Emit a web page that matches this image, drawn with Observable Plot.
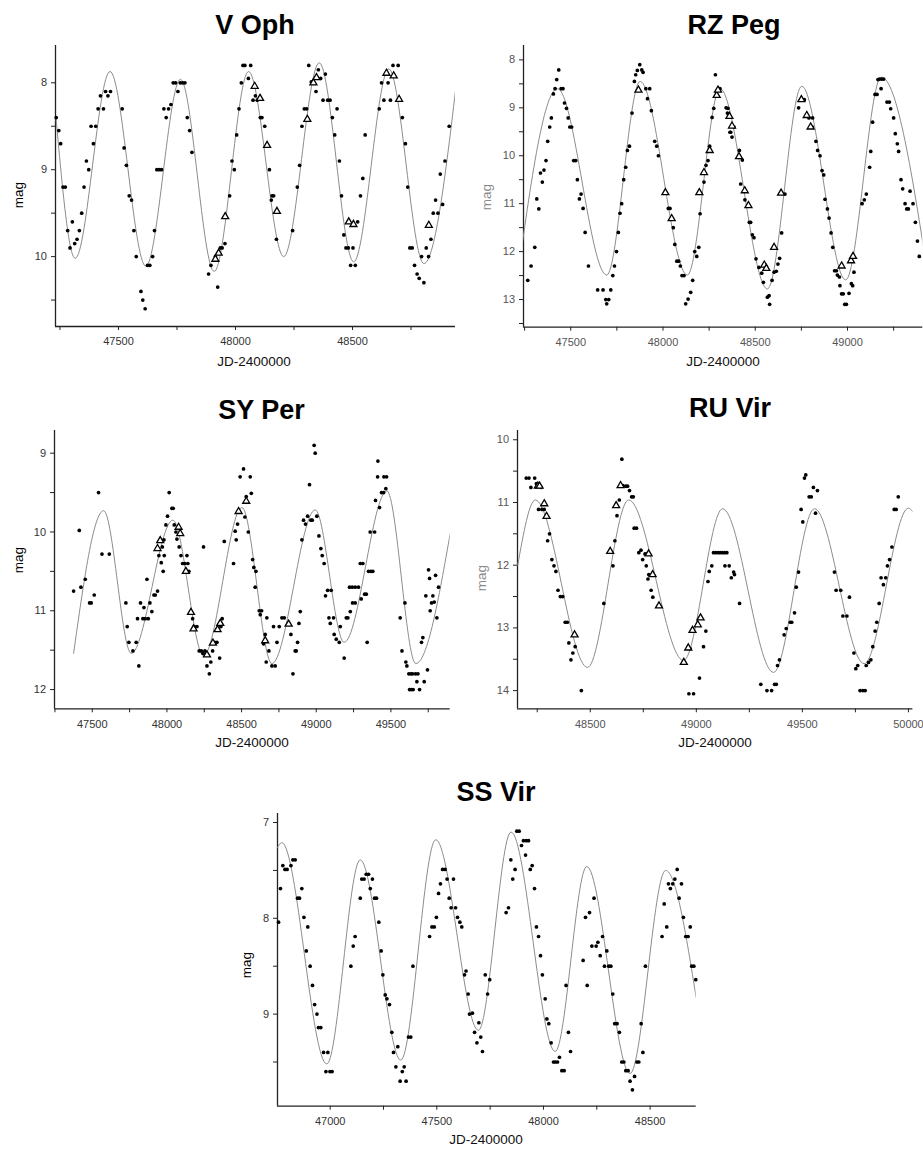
<!DOCTYPE html>
<html><head><meta charset="utf-8">
<script src="https://cdn.jsdelivr.net/npm/d3@7"></script>
<script src="https://cdn.jsdelivr.net/npm/@observablehq/plot@0.6"></script>
<style>
html,body{margin:0;padding:0;background:#fff;}
#page{position:relative;width:923px;height:1150px;overflow:hidden;font-family:Arial,"Liberation Sans",Helvetica,sans-serif;background:#fff;}
.title{position:absolute;font-weight:bold;font-size:27px;line-height:27px;text-align:center;width:240px;color:#000;white-space:nowrap;}
.ylab{position:absolute;font-size:13.5px;line-height:14px;transform:translate(-50%,-50%) rotate(-90deg);white-space:nowrap;}
.xlab{position:absolute;font-size:13.5px;line-height:14px;transform:translate(-50%,-50%);white-space:nowrap;color:#111;}
</style></head><body><div id="page"></div>
<script>
// ---------------- V Oph ----------------
const vOphDots = [[47234,8.40],[47245,8.55],[47253,8.70],[47263,9.20],[47273,9.20],[47283,9.70],[47293,9.90],[47303,9.60],[47313,9.85],[47323,9.80],[47333,9.70],[47343,9.50],[47353,9.20],[47363,8.90],[47373,9.00],[47383,8.50],[47393,8.70],[47403,8.50],[47413,8.30],[47423,8.15],[47436,8.30],[47445,8.10],[47455,8.15],[47466,8.10],[47516,8.30],[47524,8.75],[47534,8.95],[47546,9.30],[47556,9.35],[47566,9.70],[47576,10.00],[47596,10.40],[47604,10.50],[47614,10.60],[47624,10.10],[47634,10.10],[47646,10.00],[47654,9.70],[47664,9.00],[47674,9.00],[47684,9.00],[47694,8.30],[47704,8.40],[47714,8.30],[47724,8.25],[47734,8.00],[47744,8.00],[47754,8.10],[47764,8.00],[47774,8.00],[47784,8.00],[47794,8.40],[47804,8.55],[47814,8.80],[47885,10.20],[47895,10.10],[47914,10.00],[47924,10.35],[47935,9.90],[47943,9.90],[47955,9.85],[47975,9.30],[47985,8.90],[47995,9.00],[48005,8.60],[48015,8.30],[48025,8.00],[48032,7.80],[48040,7.80],[48065,7.80],[48055,7.95],[48075,8.20],[48085,8.15],[48093,8.20],[48106,8.40],[48113,8.40],[48125,8.50],[48145,9.00],[48153,9.35],[48156,9.30],[48163,9.30],[48175,9.80],[48244,9.70],[48264,9.20],[48274,8.95],[48284,8.50],[48294,8.30],[48304,8.30],[48313,7.80],[48324,7.99],[48334,8.00],[48344,8.10],[48354,7.85],[48364,7.95],[48374,8.20],[48384,7.90],[48394,8.20],[48404,8.20],[48414,8.40],[48424,8.60],[48434,8.30],[48444,8.90],[48453,9.30],[48463,9.75],[48472,9.90],[48482,9.90],[48492,10.10],[48502,9.90],[48512,10.10],[48522,9.60],[48534,9.30],[48544,9.10],[48554,8.60],[48614,8.30],[48624,8.00],[48634,8.20],[48652,8.00],[48662,8.20],[48673,7.80],[48695,7.80],[48713,8.40],[48726,8.70],[48736,9.20],[48745,9.90],[48755,9.90],[48765,10.10],[48776,10.20],[48785,10.25],[48795,10.00],[48805,10.30],[48815,9.90],[48825,10.00],[48835,9.80],[48845,9.50],[48855,9.35],[48865,9.50],[48875,9.05],[48885,9.40],[48895,8.90],[48913,8.50]];
const vOphTri = [[47914,10.03],[47928,9.96],[47956,9.54],[48082,8.04],[48105,8.18],[48135,8.72],[48177,9.48],[48307,8.42],[48333,8.00],[48346,7.94],[48484,9.60],[48504,9.63],[48645,7.89],[48676,7.92],[48699,8.19],[48826,9.64]];
const vOphFit = [[47233,8.40],[47315,10.02],[47464,7.87],[47617,10.11],[47765,7.96],[47909,10.17],[48056,7.87],[48206,10.00],[48358,7.77],[48505,10.06],[48655,7.84],[48805,10.08],[48950,7.86]];
const vOphXTicks = [47500,48000,48500];
const vOphXMinor = [47250,47750,48250,48750];
const vOphYTicks = [8,9,10];
const vOphYMinor = [8.5,9.5,10.5];

// ---------------- RZ Peg ----------------
const rzPegDots = [[47267,12.60],[47285,12.30],[47305,11.91],[47316,10.90],[47327,11.11],[47336,10.36],[47346,10.55],[47355,10.30],[47366,10.10],[47375,9.70],[47386,9.40],[47395,9.21],[47406,8.71],[47415,8.60],[47424,8.41],[47435,8.21],[47448,8.60],[47458,8.60],[47466,8.90],[47477,9.01],[47486,9.21],[47495,9.40],[47505,9.40],[47516,10.10],[47527,10.10],[47536,10.50],[47547,10.90],[47556,10.80],[47567,11.10],[47578,11.60],[47596,12.30],[47646,12.80],[47675,12.80],[47690,13.00],[47695,13.09],[47706,13.00],[47717,12.80],[47728,12.50],[47737,12.30],[47748,12.00],[47758,11.60],[47767,11.20],[47776,11.00],[47787,10.50],[47798,10.24],[47807,9.89],[47818,9.80],[47832,9.11],[47845,8.45],[47852,8.31],[47861,8.22],[47874,8.10],[47885,8.21],[47892,8.26],[47907,8.60],[47928,8.60],[47916,8.81],[47937,9.06],[47955,9.70],[47966,9.80],[47975,10.00],[48029,11.10],[48038,11.10],[48056,11.50],[48064,11.85],[48075,12.20],[48085,12.20],[48094,12.30],[48103,12.50],[48114,12.50],[48123,13.09],[48136,12.99],[48150,12.85],[48161,12.60],[48172,12.00],[48183,12.10],[48194,11.91],[48201,11.21],[48222,10.55],[48233,10.20],[48244,10.10],[48253,9.80],[48266,9.20],[48275,9.01],[48284,8.31],[48302,8.60],[48309,8.60],[48342,9.00],[48349,9.11],[48352,9.01],[48363,9.51],[48367,9.51],[48374,9.61],[48385,9.40],[48414,9.89],[48430,10.09],[48421,10.59],[48444,10.92],[48468,11.39],[48475,11.39],[48484,11.65],[48493,11.71],[48504,12.15],[48520,12.33],[48535,12.45],[48544,12.64],[48566,12.95],[48575,12.92],[48578,13.10],[48591,12.60],[48602,12.43],[48614,12.41],[48623,12.26],[48632,12.14],[48643,11.61],[48661,10.80],[48735,9.00],[48746,8.83],[48757,8.83],[48766,8.83],[48791,9.21],[48811,9.21],[48809,9.40],[48829,9.70],[48838,9.89],[48851,10.00],[48862,10.31],[48871,10.40],[48878,10.91],[48891,11.11],[48900,11.30],[48911,11.61],[48920,11.91],[48930,12.40],[48940,12.40],[48945,12.49],[48956,12.53],[48959,12.71],[48968,12.88],[48977,12.88],[48985,13.10],[48994,13.10],[49008,12.87],[49021,12.67],[49035,12.43],[49028,12.71],[49079,11.00],[49091,10.92],[49102,10.80],[49120,10.24],[49126,9.91],[49136,9.30],[49149,8.72],[49160,8.72],[49165,8.41],[49182,8.60],[49173,8.40],[49185,8.40],[49196,8.40],[49214,8.88],[49227,8.88],[49234,9.02],[49250,9.21],[49259,9.54],[49270,9.75],[49277,9.91],[49290,10.50],[49299,10.69],[49312,11.00],[49321,11.11],[49330,11.11],[49339,10.74],[49355,11.00],[49368,11.39],[49379,11.78],[49389,12.10]];
const rzPegTri = [[47867,8.63],[48013,10.77],[48047,11.31],[48197,10.77],[48222,10.35],[48253,9.89],[48291,8.74],[48298,8.63],[48360,9.18],[48374,9.38],[48412,10.02],[48443,10.73],[48463,11.04],[48549,12.28],[48560,12.35],[48602,11.91],[48640,10.78],[48750,8.83],[48779,9.16],[48800,9.40],[48968,12.30],[49019,12.19],[49030,12.10]];
const rzPegFit = [[47200,12.88],[47428,8.60],[47695,12.49],[47876,8.45],[48132,12.49],[48309,8.60],[48566,12.78],[48752,8.55],[48990,12.59],[49183,8.36],[49440,12.60]];
const rzPegXTicks = [47500,48000,48500,49000];
const rzPegXMinor = [47250,47750,48250,48750,49250];
const rzPegYTicks = [8,9,10,11,12,13];
const rzPegYMinor = [8.5,9.5,10.5,11.5,12.5,13.5];

// ---------------- SY Per ----------------
const syPerDots = [[47375,10.75],[47413,9.98],[47424,10.70],[47453,10.60],[47482,10.90],[47493,10.90],[47513,10.80],[47542,9.50],[47565,10.28],[47614,10.28],[47725,10.90],[47734,11.20],[47745,11.40],[47772,11.51],[47794,11.40],[47812,11.70],[47803,11.10],[47823,10.90],[47839,11.10],[47855,11.10],[47875,11.10],[47846,10.96],[47866,10.60],[47886,10.90],[47899,11.01],[47913,10.80],[47922,10.80],[47937,10.75],[47946,10.30],[47962,10.39],[47969,10.19],[47982,10.30],[47975,10.50],[47980,10.10],[47993,9.91],[48004,9.80],[48015,9.50],[48033,9.70],[48042,9.70],[48049,9.91],[48060,10.00],[48067,10.09],[48082,10.19],[48094,10.30],[48105,10.40],[48120,10.40],[48140,10.40],[48134,10.30],[48147,10.50],[48172,11.10],[48183,11.20],[48201,11.20],[48216,11.51],[48230,11.51],[48241,11.54],[48254,11.51],[48268,11.70],[48284,11.80],[48294,11.65],[48306,11.51],[48319,11.40],[48335,11.40],[48353,11.60],[48361,11.20],[48370,11.10],[48384,10.12],[48245,10.19],[48446,10.40],[48457,9.99],[48464,10.10],[48473,9.90],[48490,9.30],[48513,9.20],[48522,9.81],[48531,9.55],[48545,10.00],[48558,9.30],[48565,9.51],[48574,10.35],[48582,10.45],[48596,10.50],[48591,10.70],[48618,11.00],[48634,11.00],[48625,11.05],[48669,11.09],[48658,11.30],[48647,11.42],[48665,11.65],[48683,11.51],[48703,11.70],[48725,11.70],[48714,11.20],[48752,11.20],[48737,11.40],[48770,11.09],[48786,11.09],[48830,11.30],[48844,11.80],[48859,11.51],[48866,11.51],[48875,11.40],[48884,11.16],[48893,11.01],[48904,10.10],[48915,9.85],[48928,9.90],[48942,9.80],[48955,9.40],[48964,9.85],[48973,9.85],[48986,8.90],[48993,9.00],[49004,9.80],[49018,10.05],[49031,10.21],[49040,10.30],[49053,10.40],[49062,10.81],[49076,10.74],[49100,10.74],[49085,11.09],[49116,11.09],[49094,11.16],[49120,11.30],[49134,11.36],[49154,11.40],[49161,11.20],[49187,11.60],[49201,11.09],[49212,11.09],[49228,11.01],[49223,10.70],[49241,10.70],[49261,10.70],[49283,10.70],[49243,10.90],[49261,10.90],[49301,10.85],[49324,10.79],[49335,10.79],[49295,10.40],[49312,10.40],[49341,11.40],[49350,10.50],[49366,10.50],[49379,10.50],[49361,10.00],[49391,10.00],[49397,9.60],[49411,9.30],[49424,9.69],[49437,9.50],[49451,9.50],[49466,9.45],[49413,9.10],[49453,9.30],[49471,9.30],[49562,11.09],[49574,11.51],[49594,10.90],[49600,11.65],[49607,11.70],[49620,11.80],[49634,11.80],[49645,11.80],[49625,12.00],[49636,12.00],[49649,12.00],[49665,11.80],[49681,11.80],[49674,11.90],[49723,11.90],[49692,12.00],[49705,11.40],[49714,11.34],[49745,11.75],[49734,10.81],[49763,11.00],[49772,10.90],[49781,10.81],[49790,10.89],[49799,10.55],[49808,11.09],[49819,10.70],[49752,10.48],[49759,10.59]];
const syPerTri = [[47937,10.21],[47955,10.11],[48078,9.94],[48089,10.02],[48127,10.50],[48161,11.02],[48178,11.23],[48268,11.56],[48308,11.41],[48339,11.24],[48357,11.16],[48480,9.74],[48531,9.61],[48658,11.38],[48815,11.17]];
const syPerFit = [[47375,11.54],[47576,9.73],[47761,11.54],[48040,9.85],[48245,11.57],[48502,9.69],[48703,11.67],[48993,9.72],[49187,11.40],[49473,9.48],[49667,11.67],[49897,10.02]];
const syPerXTicks = [47500,48000,48500,49000,49500];
const syPerXMinor = [47250,47750,48250,48750,49250,49750];
const syPerYTicks = [9,10,11,12];
const syPerYMinor = [9.5,10.5,11.5];

// ---------------- RU Vir ----------------
const ruVirDots = [[48198,10.61],[48211,10.61],[48220,10.76],[48238,10.61],[48246,10.70],[48268,10.76],[48256,11.11],[48272,11.11],[48283,11.11],[48299,11.61],[48308,11.50],[48319,11.91],[48329,12.01],[48338,12.10],[48348,12.40],[48359,12.50],[48370,12.50],[48382,12.91],[48392,12.91],[48399,13.24],[48409,13.51],[48418,13.40],[48429,13.30],[48458,14.00],[48564,12.61],[48607,12.01],[48616,11.61],[48626,11.21],[48637,10.96],[48649,10.31],[48654,10.73],[48668,10.74],[48676,10.74],[48685,10.81],[48695,10.91],[48703,10.91],[48707,11.41],[48718,11.41],[48729,11.80],[48739,11.76],[48747,11.91],[48758,11.82],[48767,11.82],[48764,12.01],[48772,12.22],[48776,12.15],[48787,12.40],[48795,12.51],[48965,14.05],[48987,14.05],[49015,13.80],[48971,13.33],[49034,13.30],[49045,13.05],[49055,12.26],[49061,12.10],[49073,12.01],[49081,11.80],[49092,11.80],[49103,11.80],[49113,11.80],[49124,11.80],[49134,11.80],[49144,11.80],[49135,12.01],[49155,12.01],[49165,12.20],[49176,12.11],[49180,12.15],[49204,12.61],[49304,13.90],[49333,14.00],[49355,14.00],[49369,13.90],[49377,13.90],[49383,13.60],[49392,13.51],[49414,13.11],[49424,13.01],[49443,12.91],[49450,12.91],[49463,12.76],[49471,12.35],[49482,12.11],[49494,11.11],[49502,11.31],[49510,10.61],[49516,10.56],[49532,10.91],[49542,10.91],[49552,10.76],[49562,11.17],[49571,10.81],[49651,12.11],[49659,12.40],[49681,12.40],[49722,12.51],[49691,12.81],[49710,12.81],[49743,13.40],[49752,13.65],[49761,13.60],[49772,14.00],[49785,14.00],[49796,14.00],[49801,13.60],[49812,13.55],[49823,13.51],[49832,13.30],[49843,13.05],[49851,12.91],[49862,12.61],[49871,12.20],[49893,12.20],[49882,12.31],[49901,12.01],[49911,11.91],[49922,11.71],[49933,11.11],[49942,11.11],[49952,10.91]];
const ruVirTri = [[48253,10.74],[48261,10.74],[48283,11.02],[48294,11.22],[48426,13.11],[48594,11.78],[48622,11.05],[48643,10.73],[48775,11.82],[48794,12.15],[48824,12.65],[48941,13.55],[48962,13.32],[48982,13.04],[49007,12.95],[49020,12.84]];
const ruVirFit = [[48158,12.00],[48241,10.96],[48487,13.63],[48681,10.96],[48940,13.52],[49124,11.10],[49364,13.71],[49557,11.10],[49791,13.57],[50000,11.09],[50021,11.15]];
const ruVirXTicks = [48500,49000,49500,50000];
const ruVirXMinor = [48250,48750,49250,49750];
const ruVirYTicks = [10,11,12,13,14];
const ruVirYMinor = [10.5,11.5,12.5,13.5];

// ---------------- SS Vir ----------------
const ssVirDots = [[46758,8.04],[46767,7.69],[46778,7.45],[46788,7.49],[46798,7.49],[46816,7.45],[46825,7.39],[46836,7.39],[46847,7.79],[46856,7.79],[46867,7.69],[46877,7.99],[46895,8.09],[46888,8.34],[46906,8.50],[46917,8.70],[46927,8.90],[46938,9.00],[46945,9.14],[46956,9.14],[46969,9.40],[46989,9.40],[46980,9.60],[46999,9.60],[47009,9.60],[47097,8.50],[47108,8.29],[47117,8.19],[47141,7.79],[47148,7.59],[47159,7.59],[47169,7.54],[47180,7.54],[47188,7.69],[47198,7.59],[47208,7.79],[47217,7.79],[47228,8.04],[47239,8.34],[47247,8.59],[47258,8.80],[47266,8.84],[47278,8.90],[47289,9.19],[47297,9.40],[47317,9.34],[47308,9.55],[47328,9.70],[47338,9.60],[47347,9.55],[47356,9.70],[47367,9.24],[47378,9.24],[47388,8.50],[47466,8.19],[47477,8.09],[47488,8.09],[47498,7.99],[47508,7.74],[47517,7.64],[47527,7.49],[47539,7.49],[47548,7.59],[47558,7.79],[47567,7.89],[47588,7.89],[47578,7.59],[47597,7.99],[47608,8.04],[47617,8.09],[47630,8.59],[47637,8.55],[47647,8.79],[47653,9.00],[47667,8.99],[47677,9.19],[47688,9.30],[47697,9.09],[47706,9.24],[47714,9.39],[47727,8.59],[47738,8.79],[47748,8.64],[47825,7.94],[47836,7.89],[47847,7.39],[47856,7.59],[47867,7.49],[47875,7.09],[47886,7.09],[47897,7.24],[47906,7.19],[47919,7.19],[47930,7.19],[47916,7.34],[47938,7.49],[47947,7.45],[47958,7.69],[47967,8.09],[47977,8.19],[47986,8.39],[47995,8.59],[48008,8.84],[48016,9.05],[48025,9.10],[48036,9.30],[48047,9.50],[48056,9.50],[48066,9.50],[48075,9.45],[48086,9.59],[48097,9.59],[48106,8.70],[48117,9.19],[48127,9.39],[48186,8.44],[48197,7.99],[48205,8.70],[48216,7.94],[48227,8.29],[48247,8.29],[48237,7.79],[48255,8.25],[48266,8.39],[48277,8.19],[48286,8.50],[48297,8.34],[48306,8.50],[48316,8.50],[48325,8.79],[48334,9.10],[48345,9.10],[48356,9.19],[48367,9.50],[48377,9.50],[48386,9.59],[48397,9.59],[48406,9.70],[48417,9.79],[48427,9.65],[48438,9.50],[48447,9.50],[48458,9.10],[48466,9.40],[48478,8.50],[48556,8.19],[48566,7.85],[48578,8.09],[48586,7.64],[48606,7.64],[48595,7.69],[48616,7.59],[48627,7.49],[48636,7.79],[48647,7.64],[48656,7.99],[48667,8.19],[48678,8.19],[48688,8.09],[48695,8.50],[48705,8.50],[48714,8.64]];
const ssVirTri = [];
const ssVirFit = [[46753,7.26],[46773,7.21],[46984,9.52],[47141,7.39],[47331,9.48],[47495,7.18],[47695,9.17],[47848,7.10],[48055,9.39],[48203,7.46],[48406,9.62],[48573,7.50],[48716,8.83]];
const ssVirXTicks = [47000,47500,48000,48500];
const ssVirXMinor = [47250,47750,48250];
const ssVirYTicks = [7,8,9];
const ssVirYMinor = [7.5,8.5,9.5];

const titles = ["V Oph","RZ Peg","SY Per","RU Vir","SS Vir"];
const yLabel = "mag";
const xLabel = "JD-2400000";

// ---------------- layout ----------------
const panels = [
  {title:titles[0], dots:vOphDots, tri:vOphTri, fit:vOphFit, xDomain:[47231,48940], yDomain:[7.571,10.804],
   xT:vOphXTicks, xM:vOphXMinor, yT:vOphYTicks, yM:vOphYMinor,
   frame:{l:55,r:455,t:45,b:326}, tpos:[255,35], mpos:[18.5,195], mcol:"#000", jpos:[254,361.5], tcol:"#333", mr:8},
  {title:titles[1], dots:rzPegDots, tri:rzPegTri, fit:rzPegFit, xDomain:[47244,49408], yDomain:[7.70,13.577],
   xT:rzPegXTicks, xM:rzPegXMinor, yT:rzPegYTicks, yM:rzPegYMinor,
   frame:{l:522.7,r:922,t:45,b:326.7}, tpos:[734,35], mpos:[487,197], mcol:"#8a8a8a", jpos:[723,361.5], tcol:"#555", mr:1},
  {title:titles[2], dots:syPerDots, tri:syPerTri, fit:syPerFit, xDomain:[47247,49897], yDomain:[8.712,12.244],
   xT:syPerXTicks, xM:syPerXMinor, yT:syPerYTicks, yM:syPerYMinor,
   frame:{l:54.3,r:450,t:430,b:708.3}, tpos:[261.5,420], mpos:[18.5,560], mcol:"#000", jpos:[252,743], tcol:"#333", mr:8},
  {title:titles[3], dots:ruVirDots, tri:ruVirTri, fit:ruVirFit, xDomain:[48157,50021], yDomain:[9.852,14.29],
   xT:ruVirXTicks, xM:ruVirXMinor, yT:ruVirYTicks, yM:ruVirYMinor,
   frame:{l:517.3,r:912.7,t:430,b:708.3}, tpos:[730,418], mpos:[482,578], mcol:"#8a8a8a", jpos:[715,743], tcol:"#555", mr:9},
  {title:titles[4], dots:ssVirDots, tri:ssVirTri, fit:ssVirFit, xDomain:[46753,48716], yDomain:[6.906,9.961],
   xT:ssVirXTicks, xM:ssVirXMinor, yT:ssVirYTicks, yM:ssVirYMinor,
   frame:{l:277.3,r:696,t:813.3,b:1106}, tpos:[496,802], mpos:[247,965], mcol:"#000", jpos:[486,1140], tcol:"#333", mr:8}
];

const page = document.getElementById("page");
const FONT = "Arial, 'Liberation Sans', Helvetica, sans-serif";

function addDiv(cls, text, css) {
  const d = document.createElement("div");
  d.className = cls; d.textContent = text;
  Object.assign(d.style, css);
  page.appendChild(d);
}

for (const p of panels) {
  const ML = 40, MR = p.mr, MT = 6, MB = 26;
  const W = (p.frame.r - p.frame.l) + ML + MR;
  const H = (p.frame.b - p.frame.t) + MT + MB;
  const fx = d => d[0], fy = d => d[1];
  const chart = Plot.plot({
    width: W, height: H,
    marginLeft: ML, marginRight: MR, marginTop: MT, marginBottom: MB,
    style: {fontSize: "11px", fontFamily: FONT, color: p.tcol, background: "transparent", overflow: "visible"},
    x: {domain: p.xDomain},
    y: {domain: p.yDomain, reverse: true},
    marks: [
      Plot.axisX({ticks: p.xM, tickSize: 4, tickFormat: () => "", stroke: "#222", label: null}),
      Plot.axisX({ticks: p.xT, tickSize: 4, tickPadding: 7, tickFormat: d => String(d), stroke: "#222", label: null}),
      Plot.axisY({ticks: p.yM, tickSize: 4, tickFormat: () => "", stroke: "#222", label: null}),
      Plot.axisY({ticks: p.yT, tickSize: 4, tickPadding: 4.5, tickFormat: d => String(d), stroke: "#222", label: null}),
      Plot.ruleX([p.xDomain[0]], {stroke: "#222", strokeWidth: 1.3}),
      Plot.ruleY([p.yDomain[1]], {stroke: "#222", strokeWidth: 1.3}),
      Plot.line(p.fit, {x: fx, y: fy, curve: "monotone-x", stroke: "#8c8c8c", strokeWidth: 1, clip: true}),
      Plot.dot(p.dots, {x: fx, y: fy, r: 1.85, fill: "#000", stroke: null}),
      Plot.dot(p.tri, {x: fx, y: fy, symbol: "triangle", r: 2.6, stroke: "#000", strokeWidth: 1.3, fill: "#fff"})
    ]
  });
  chart.style.position = "absolute";
  chart.style.left = (p.frame.l - ML) + "px";
  chart.style.top = (p.frame.t - MT) + "px";
  page.appendChild(chart);

  addDiv("title", p.title, {left: (p.tpos[0] - 120) + "px", top: (p.tpos[1] - 0.847 * 27) + "px"});
  addDiv("ylab", yLabel, {left: p.mpos[0] + "px", top: p.mpos[1] + "px", color: p.mcol});
  addDiv("xlab", xLabel, {left: p.jpos[0] + "px", top: p.jpos[1] + "px"});
}
</script>
</body></html>
